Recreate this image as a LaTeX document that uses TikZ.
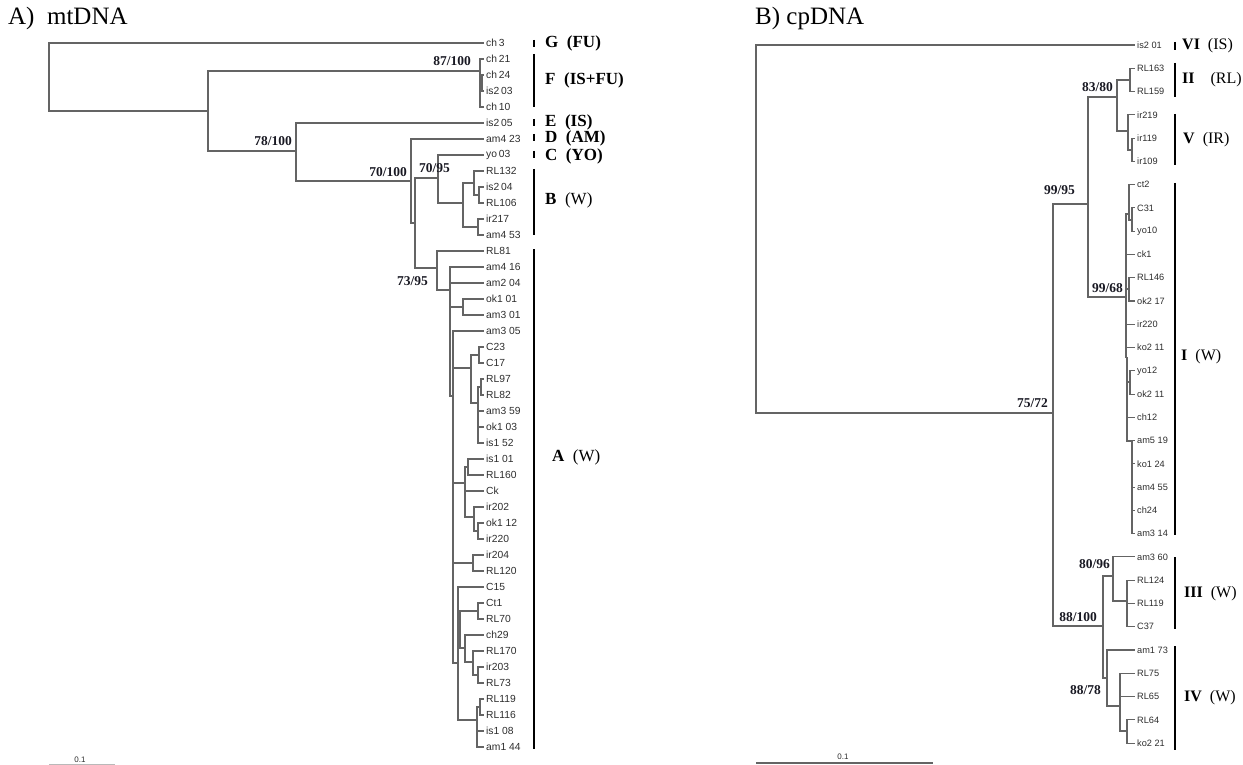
\documentclass[tikz,border=0pt]{standalone}
\usepackage{fontspec}
\setmainfont{Liberation Serif}
\newfontfamily\tipfont{Liberation Sans}
\definecolor{branchgray}{RGB}{100,100,100}
\definecolor{tipgray}{RGB}{45,45,45}
\definecolor{bootblack}{RGB}{25,25,35}
\tikzset{
  branch/.style={draw=branchgray, line width=1.1pt},
  tipA/.style={anchor=west, inner xsep=2pt, inner ysep=0pt, text=tipgray,
    font=\tipfont\fontsize{10.3}{10.3}\selectfont},
  tipB/.style={tipA, font=\tipfont\fontsize{9.2}{9.2}\selectfont},
  boot/.style={anchor=base east, inner sep=0pt, text=bootblack,
    font=\bfseries\fontsize{13.5}{13.5}\selectfont},
  cladebar/.style={line width=2.8pt, black},
  cladeA/.style={anchor=west, inner sep=0pt, font=\fontsize{17}{17}\selectfont},
  cladeB/.style={cladeA, font=\fontsize{16}{16}\selectfont},
  paneltitle/.style={anchor=west, inner sep=0pt, font=\fontsize{25}{25}\selectfont},
  scaletext/.style={anchor=south, inner sep=0pt, text=tipgray,
    font=\tipfont\fontsize{8}{8}\selectfont}
}
\begin{document}
\begin{tikzpicture}[x=1pt,y=-1pt]
\useasboundingbox (0,0) rectangle (1243,765);

% panel titles
\node[paneltitle] (titA) at (8,18) {A)\ \ mtDNA};
\node[paneltitle] (titB) at (755,18) {B) cpDNA};

% ---- A) mtDNA tree ----
\foreach \lab [count=\i from 0] in {ch\,3, ch\,21, ch\,24, is2\,03, ch\,10, is2\,05,
    am4 23, yo\,03, RL132, is2\,04, RL106, ir217, am4 53, RL81, am4 16, am2 04,
    ok1 01, am3 01, am3 05, C23, C17, RL97, RL82, am3 59, ok1 03, is1 52, is1 01,
    RL160, Ck, ir202, ok1 12, ir220, ir204, RL120, C15, Ct1, RL70, ch29, RL170,
    ir203, RL73, RL119, RL116, is1 08, am1 44}
  \node[tipA] (L\i) at (484,{43+16*\i}) {\lab};

\coordinate (r) at (49,77);
\coordinate (n1) at (208,111);
\coordinate (nF) at (480,71);
\coordinate (nF2) at (482,83);
\coordinate (n2) at (296,151);
\coordinate (n3) at (411,181);
\coordinate (n4) at (415,223);
\coordinate (n5) at (438,178);
\coordinate (nB) at (463,203);
\coordinate (nB1) at (474,183);
\coordinate (nB1a) at (479,195);
\coordinate (nB2) at (478,227);
\coordinate (nA) at (437,268);
\coordinate (nA1) at (450,290);
\coordinate (nA2) at (463,307);
\coordinate (nA3) at (453,396);
\coordinate (nA4) at (471,368);
\coordinate (nA5) at (479,355);
\coordinate (nA6) at (478,403);
\coordinate (nA6a) at (481,387);
\coordinate (nA7) at (465,483);
\coordinate (nA8) at (468,467);
\coordinate (nA8b) at (474,517);
\coordinate (nA8c) at (478,531);
\coordinate (nA9) at (473,563);
\coordinate (nA10) at (458,663);
\coordinate (nA11) at (460,640);
\coordinate (nA12) at (478,611);
\coordinate (nA13) at (465,648);
\coordinate (nA14) at (473,662);
\coordinate (nA15) at (478,675);
\coordinate (nA16) at (477,720);
\coordinate (nA17) at (480,707);

\foreach \p/\c in {r/L0, r/n1, n1/nF, n1/n2, nF/L1, nF/nF2, nF/L4, nF2/L2, nF2/L3,
    n2/L5, n2/n3, n3/L6, n3/n4, n4/n5, n4/nA, n5/L7, n5/nB, nB/nB1, nB/nB2,
    nB1/L8, nB1/nB1a, nB1a/L9, nB1a/L10, nB2/L11, nB2/L12}
  \draw[branch] (\p) |- (\c);
% clade A
\foreach \p/\c in {nA/L13, nA/nA1, nA1/L14, nA1/L15, nA1/nA2, nA1/nA3, nA2/L16, nA2/L17,
    nA3/L18, nA3/nA4, nA3/nA7, nA3/nA9, nA3/nA10, nA4/nA5, nA4/nA6, nA5/L19, nA5/L20,
    nA6/nA6a, nA6/L23, nA6/L24, nA6/L25, nA6a/L21, nA6a/L22,
    nA7/nA8, nA7/L28, nA7/nA8b, nA8/L26, nA8/L27, nA8b/L29, nA8b/nA8c, nA8c/L30, nA8c/L31,
    nA9/L32, nA9/L33, nA10/L34, nA10/nA11, nA10/nA16, nA11/nA12, nA11/nA13,
    nA12/L35, nA12/L36, nA13/L37, nA13/nA14, nA14/L38, nA14/nA15, nA15/L39, nA15/L40,
    nA16/nA17, nA16/L43, nA16/L44, nA17/L41, nA17/L42}
  \draw[branch] (\p) |- (\c);

% bootstrap values
\node[boot] (b87) at (471,66) {87/100};
\node[boot] (b78) at (292,146) {78/100};
\node[boot] (b70a) at (407,177) {70/100};
\node[boot] (b70b) at (450,172) {70/95};
\node[boot] (b73) at (428,285) {73/95};

% clade bars and names
\draw[cladebar] (534,40) -- (534,47);
\draw[cladebar] (534,54) -- (534,107);
\draw[cladebar] (534,119) -- (534,126);
\draw[cladebar] (534,134) -- (534,141);
\draw[cladebar] (534,151) -- (534,158);
\draw[cladebar] (534,169) -- (534,235);
\draw[cladebar] (534,249) -- (534,749);
\node[cladeA] (gG) at (545,43) {\textbf{G}\enspace\textbf{(FU)}};
\node[cladeA] (gF) at (545,80) {\textbf{F}\enspace\textbf{(IS+FU)}};
\node[cladeA] (gE) at (545,122) {\textbf{E}\enspace\textbf{(IS)}};
\node[cladeA] (gD) at (545,138) {\textbf{D}\enspace\textbf{(AM)}};
\node[cladeA] (gC) at (545,156) {\textbf{C}\enspace\textbf{(YO)}};
\node[cladeA] (gB) at (545,200) {\textbf{B}\enspace(W)};
\node[cladeA] (gA) at (552,457) {\textbf{A}\enspace(W)};

% scale bar
\coordinate (sbA1) at (49,764);
\coordinate (sbA2) at (115,764);
\draw[draw=branchgray!45, line width=0.6pt] (sbA1) -- (sbA2);
\node[scaletext] (sbAt) at (80,763) {0.1};

% ---- B) cpDNA tree ----
\foreach \lab [count=\j from 0] in {is2 01, RL163, RL159, ir219, ir119, ir109, ct2, C31,
    yo10, ck1, RL146, ok2 17, ir220, ko2 11, yo12, ok2 11, ch12, am5 19, ko1 24,
    am4 55, ch24, am3 14, am3 60, RL124, RL119, C37, am1 73, RL75, RL65, RL64, ko2 21}
  \node[tipB] (R\j) at (1135,{45+23.27*\j}) {\lab};

\coordinate (s) at (756,229);
\coordinate (s1) at (1053,413);
\coordinate (s2) at (1088,204);
\coordinate (s3) at (1117,97);
\coordinate (sII) at (1130,80);
\coordinate (sV) at (1128,131);
\coordinate (sV2) at (1132,150);
\coordinate (sI) at (1126,297);
\coordinate (sI1) at (1129,214);
\coordinate (sI1a) at (1132,220);
\coordinate (sI2) at (1129,289);
\coordinate (sI4) at (1127,357);
\coordinate (sI5) at (1130,382);
\coordinate (sI6) at (1132,441);
\coordinate (s9) at (1103,626);
\coordinate (sIII) at (1113,576);
\coordinate (sIII2) at (1127,601);
\coordinate (sIV) at (1107,678);
\coordinate (sIV2) at (1120,706);
\coordinate (sIV3) at (1127,731);

\foreach \p/\c in {s/R0, s/s1, s1/s2, s1/s9, s2/s3, s2/sI, s3/sII, s3/sV,
    sII/R1, sII/R2, sV/R3, sV/sV2, sV2/R4, sV2/R5,
    sI/sI1, sI/R9, sI/sI2, sI/R12, sI/R13, sI/sI4, sI1/R6, sI1/sI1a, sI1a/R7, sI1a/R8,
    sI2/R10, sI2/R11, sI4/sI5, sI4/R16, sI4/sI6, sI5/R14, sI5/R15,
    sI6/R17, sI6/R18, sI6/R19, sI6/R20, sI6/R21,
    s9/sIII, s9/sIV, sIII/R22, sIII/sIII2, sIII2/R23, sIII2/R24, sIII2/R25,
    sIV/R26, sIV/sIV2, sIV2/R27, sIV2/R28, sIV2/sIV3, sIV3/R29, sIV3/R30}
  \draw[branch] (\p) |- (\c);

% bootstrap values
\node[boot] (b83) at (1113,92) {83/80};
\node[boot] (b99a) at (1075,195) {99/95};
\node[boot] (b99b) at (1123,292) {99/68};
\node[boot] (b75) at (1048,407) {75/72};
\node[boot] (b88a) at (1097,621) {88/100};
\node[boot] (b80) at (1110,568) {80/96};
\node[boot] (b88b) at (1101,694) {88/78};

% clade bars and names
\draw[cladebar] (1175,42) -- (1175,50);
\draw[cladebar] (1175,63) -- (1175,97);
\draw[cladebar] (1175,114) -- (1175,165);
\draw[cladebar] (1175,183) -- (1175,535);
\draw[cladebar] (1175,557) -- (1175,629);
\draw[cladebar] (1175,646) -- (1175,750);
\node[cladeB] (gVI) at (1182,46) {\textbf{VI}\enspace(IS)};
\node[cladeB] (gII) at (1182,80) {\textbf{II}\quad(RL)};
\node[cladeB] (gV) at (1183,140) {\textbf{V}\enspace(IR)};
\node[cladeB] (gI) at (1181,357) {\textbf{I}\enspace(W)};
\node[cladeB] (gIII) at (1184,594) {\textbf{III}\enspace(W)};
\node[cladeB] (gIV) at (1184,698) {\textbf{IV}\enspace(W)};

% scale bar
\coordinate (sbB1) at (756,763);
\coordinate (sbB2) at (933,763);
\draw[draw=branchgray, line width=1.4pt] (sbB1) -- (sbB2);
\node[scaletext] (sbBt) at (843,760) {0.1};
\end{tikzpicture}
\end{document}
